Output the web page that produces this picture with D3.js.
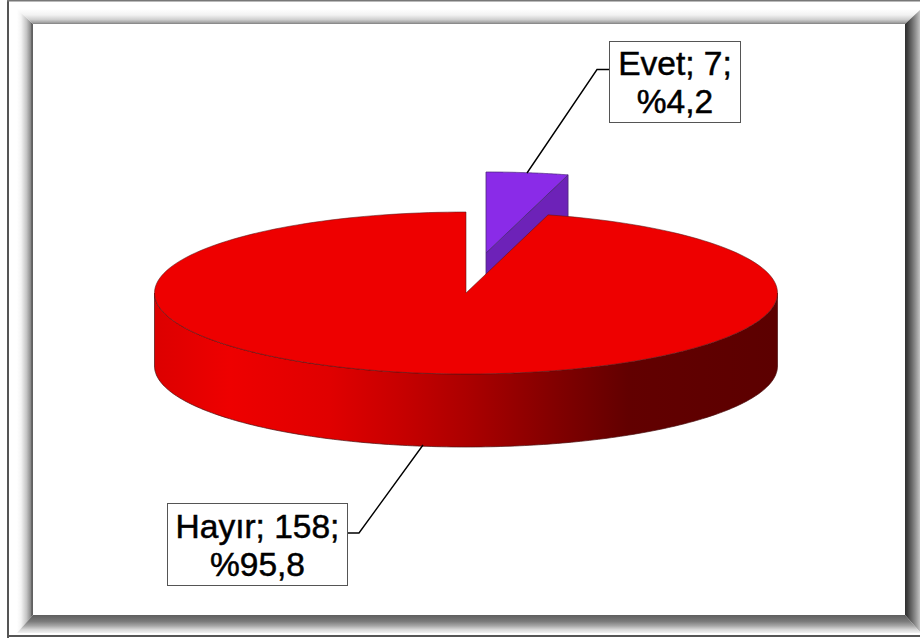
<!DOCTYPE html>
<html><head><meta charset="utf-8">
<script src="https://cdn.jsdelivr.net/npm/d3@7"></script>
<style>html,body{margin:0;padding:0;background:#fff}svg{display:block}</style>
</head><body><svg id="c" width="920" height="638"></svg>
<script>
const categories = ["Evet", "Hayır"];
const values = [7, 158];
const percents = ["4,2", "95,8"];
const sliceTop = ["#8a2be8", "#ee0000"];
const sliceSide = ["#6d22b8", "url(#wall)"];

const W = 920, H = 638;
const cx = 466, cy = 293, rx = 311.5, ry = 81, depth = 73;
const explode = [20, -40];
const svg = d3.select("#c");
const defs = svg.append("defs");

function grad(id, x1, y1, x2, y2, stops) {
  const g = defs.append("linearGradient").attr("id", id).attr("gradientUnits", "userSpaceOnUse")
    .attr("x1", x1).attr("y1", y1).attr("x2", x2).attr("y2", y2);
  stops.forEach(s => g.append("stop").attr("offset", s[0]).attr("stop-color", s[1]));
}
// frame
const L0 = 17, L1 = 33, T0 = 9, T1 = 24, R1 = 905, R0 = 921, B1 = 615, B0 = 633;
grad("fl", L0, 0, L1, 0, [[0, "#ffffff"], [0.25, "#f4f4f4"], [0.6, "#c4c4c4"], [0.85, "#8c8c8c"], [0.88, "#6c6c6c"], [1, "#5c5c5c"]]);
grad("ft", 0, T0, 0, T1, [[0, "#ffffff"], [0.4, "#f2f2f2"], [0.7, "#d0d0d0"], [0.88, "#a8a8a8"], [1, "#808080"]]);
grad("fr", R1, 0, R0, 0, [[0, "#2e2e2e"], [0.15, "#3e3e3e"], [0.45, "#6e6e6e"], [0.7, "#989898"], [1, "#cfcfcf"]]);
grad("fb", 0, B1, 0, B0, [[0, "#5e5e5e"], [0.35, "#7a7a7a"], [0.6, "#a6a6a6"], [0.8, "#d6d6d6"], [1, "#f2f2f2"]]);
grad("wall", cx - rx, 0, cx + rx, 0, [[0, "#dc0000"], [0.12, "#ee0000"], [0.28, "#e00000"], [0.39, "#c80000"], [0.5, "#ac0000"], [0.65, "#800000"], [0.76, "#620000"], [1, "#5c0000"]]);

const frame = svg.append("g");
frame.append("rect").attr("width", W).attr("height", H).attr("fill", "#fff");
frame.append("rect").attr("x", 7).attr("y", 0).attr("width", 2).attr("height", H).attr("fill", "#555");
frame.append("rect").attr("x", 7).attr("y", 0).attr("width", W).attr("height", 1.5).attr("fill", "#777");
frame.append("rect").attr("x", 7).attr("y", 635).attr("width", W).attr("height", 2).attr("fill", "#555");
const poly = pts => pts.map(p => p.join(",")).join(" ");
[["fl", [[L0, T0], [L1, T1], [L1, B1], [L0, B0]]],
 ["ft", [[L0, T0], [R0, T0], [R1, T1], [L1, T1]]],
 ["fr", [[R0, T0], [R0, B0], [R1, B1], [R1, T1]]],
 ["fb", [[L0, B0], [L1, B1], [R1, B1], [R0, B0]]]
].forEach(([id, pts]) => frame.append("polygon").attr("points", poly(pts)).attr("fill", `url(#${id})`));

// pie
const arcs = d3.pie().sort(null).startAngle(0).endAngle(2 * Math.PI)(values);
const X = a => rx * Math.sin(a), Y = a => -ry * Math.cos(a);
const lineGen = d3.line();
const arcPts = (a0, a1, dx, dy) => d3.range(0, 201).map(i => {
  const a = a0 + (a1 - a0) * i / 200;
  return [cx + dx + X(a), cy + dy + Y(a)];
});
const edge = "#5a1a1a";

// exploded slice first (behind)
{
  const d = arcs[0], [ex, ey] = explode, apex = [cx + ex, cy + ey];
  const right = [cx + ex + X(d.endAngle), cy + ey + Y(d.endAngle)];
  svg.append("path").attr("d", lineGen([apex, right, [right[0], right[1] + depth], [apex[0], apex[1] + depth]]) + "Z")
    .attr("fill", sliceSide[0]).attr("stroke", "#4b2a7a").attr("stroke-width", 0.8);
  svg.append("path").attr("d", lineGen([apex, ...arcPts(d.startAngle, d.endAngle, ex, ey)]) + "Z")
    .attr("fill", sliceTop[0]).attr("stroke", "#4b2a7a").attr("stroke-width", 0.8);
}
// main slice wall and top
{
  const d = arcs[1];
  const front0 = Math.PI / 2, front1 = 3 * Math.PI / 2;
  const top = arcPts(front0, front1, 0, 0), bot = arcPts(front0, front1, 0, depth).reverse();
  svg.append("path").attr("d", lineGen([...top, ...bot]) + "Z")
    .attr("fill", sliceSide[1]).attr("stroke", "#4a1010").attr("stroke-width", 0.7);
  svg.append("path").attr("d", lineGen([[cx, cy], ...arcPts(d.startAngle, d.endAngle, 0, 0)]) + "Z")
    .attr("fill", sliceTop[1]).attr("stroke", edge).attr("stroke-width", 0.7).attr("stroke-opacity", 0.8);
}
// labels
const boxes = [{x: 609, y: 41, w: 131, h: 81, b: [75, 113], leader: [[527, 173], [597, 69.5], [609, 69.5]]},
               {x: 167, y: 503, w: 180, h: 82, b: [538, 576], leader: [[423, 445], [359, 533], [347, 533]]}];
boxes.forEach((b, i) => {
  svg.append("path").attr("d", lineGen(b.leader)).attr("fill", "none").attr("stroke", "#000").attr("stroke-width", 1.4);
  svg.append("rect").attr("x", b.x + .5).attr("y", b.y + .5).attr("width", b.w).attr("height", b.h)
    .attr("fill", "#fff").attr("stroke", "#555").attr("stroke-width", 1);
  const lines = [`${categories[i]}; ${values[i]};`, `%${percents[i]}`];
  lines.forEach((t, j) => svg.append("text").attr("x", b.x + b.w / 2 + .5).attr("y", b.b[j])
    .attr("text-anchor", "middle").attr("font-family", "Liberation Sans, Arial, sans-serif")
    .attr("font-size", 33.5).attr("fill", "#000").attr("stroke", "#000").attr("stroke-width", 0.5).text(t));
});
</script></body></html>
